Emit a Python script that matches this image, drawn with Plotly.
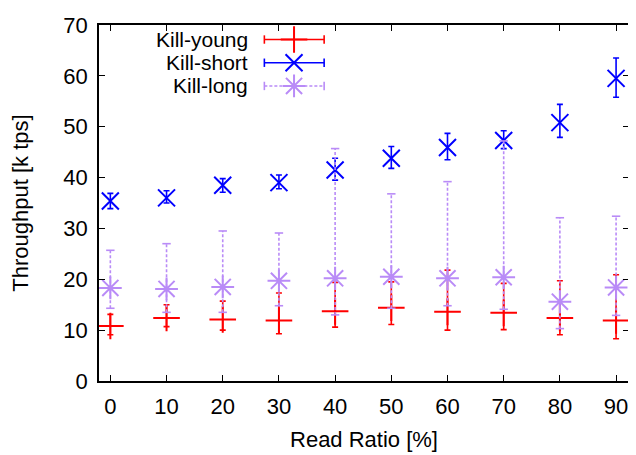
import plotly.graph_objects as go

# ---- data ----
read_ratio = [0, 10, 20, 30, 40, 50, 60, 70, 80, 90]

young = [10.8, 12.4, 12.1, 11.9, 13.7, 14.4, 13.6, 13.4, 12.4, 11.9]
young_lo = [9.1, 10.7, 10.0, 9.3, 10.6, 11.1, 10.0, 10.1, 9.1, 8.3]
young_hi = [13.1, 15.0, 15.7, 17.3, 19.4, 19.5, 21.8, 19.2, 19.7, 20.9]

short = [35.4, 36.0, 38.5, 39.0, 41.5, 43.8, 45.9, 47.3, 50.8, 59.5]
short_lo = [33.9, 35.0, 37.1, 37.8, 39.5, 41.8, 43.5, 45.7, 47.9, 55.8]
short_hi = [36.9, 37.4, 39.8, 40.5, 43.8, 46.1, 48.7, 49.2, 54.4, 63.5]

long_ = [18.3, 18.1, 18.5, 19.7, 20.2, 20.5, 20.2, 20.4, 15.6, 18.4]
long_lo = [14.3, 13.5, 13.5, 14.8, 13.0, 14.3, 14.8, 14.1, 10.3, 12.9]
long_hi = [25.7, 27.0, 29.5, 29.1, 45.7, 36.8, 39.2, 47.2, 32.1, 32.4]

series_names = ["Kill-young", "Kill-short", "Kill-long"]
x_ticks = [0, 10, 20, 30, 40, 50, 60, 70, 80, 90]
y_ticks = [0, 10, 20, 30, 40, 50, 60, 70]

RED = "#ff0000"
BLUE = "#0000ff"
PURPLE = "#b98bf7"
FONT = "Liberation Sans, Arial, sans-serif"
FS = 22
LEG_FS = 21

fig = go.Figure()


def err(vals, lo, hi):
    plus = [h - v for v, h in zip(vals, hi)]
    minus = [v - l for v, l in zip(vals, lo)]
    return plus, minus


# Kill-young
p, m = err(young, young_lo, young_hi)
fig.add_trace(go.Scatter(
    x=read_ratio, y=young, mode="markers", name=series_names[0],
    marker=dict(symbol="cross-thin-open", size=19, color=RED,
                line=dict(color=RED, width=2)),
    error_y=dict(type="data", symmetric=False, array=p, arrayminus=m,
                 color=RED, thickness=1.6, width=3),
    showlegend=False))

# Kill-short
p, m = err(short, short_lo, short_hi)
fig.add_trace(go.Scatter(
    x=read_ratio, y=short, mode="markers", name=series_names[1],
    marker=dict(symbol="x-thin-open", size=17, color=BLUE,
                line=dict(color=BLUE, width=2)),
    error_y=dict(type="data", symmetric=False, array=p, arrayminus=m,
                 color=BLUE, thickness=1.6, width=3),
    showlegend=False))

# Kill-long: dashed error bars built from the data arrays
bx, by = [], []
for xv, lo, hi in zip(read_ratio, long_lo, long_hi):
    bx += [xv, xv, None]
    by += [lo, hi, None]
fig.add_trace(go.Scatter(
    x=bx, y=by, mode="lines",
    line=dict(color=PURPLE, width=1.6, dash="3px,2px"),
    showlegend=False, hoverinfo="skip"))
fig.add_trace(go.Scatter(
    x=read_ratio + read_ratio, y=long_lo + long_hi, mode="markers",
    marker=dict(symbol="line-ew-open", size=6, color=PURPLE,
                line=dict(color=PURPLE, width=1.6)),
    showlegend=False, hoverinfo="skip"))
fig.add_trace(go.Scatter(
    x=read_ratio, y=long_, mode="markers", name=series_names[2],
    marker=dict(symbol="asterisk-open", size=19, color=PURPLE,
                line=dict(color=PURPLE, width=2)),
    showlegend=False))

# ---- legend (gnuplot style: text right-aligned, sample to the right) ----
leg_rows = [0.9592, 0.894, 0.8288]
leg_text_x = 0.284
leg_x0, leg_xm, leg_x1 = 0.312, 0.368, 0.4248
leg_styles = [
    (RED, "cross-thin-open", 19, None),
    (BLUE, "x-thin-open", 17, None),
    (PURPLE, "asterisk-open", 19, "3px,2px"),
]
for name, yy, (col, sym, sz, dash) in zip(series_names, leg_rows, leg_styles):
    fig.add_annotation(x=leg_text_x, y=yy, xref="paper", yref="paper",
                       text=name, showarrow=False, xanchor="right",
                       yanchor="middle",
                       font=dict(family=FONT, size=LEG_FS, color="black"))
    fig.add_trace(go.Scatter(
        x=[leg_x0, leg_x1], y=[yy, yy], mode="lines", xaxis="x2", yaxis="y2",
        line=dict(color=col, width=1.6, dash=dash),
        showlegend=False, hoverinfo="skip"))
    fig.add_trace(go.Scatter(
        x=[leg_x0, leg_x1], y=[yy, yy], mode="markers", xaxis="x2", yaxis="y2",
        marker=dict(symbol="line-ns-open", size=6, color=col,
                    line=dict(color=col, width=1.6)),
        showlegend=False, hoverinfo="skip"))
    fig.add_trace(go.Scatter(
        x=[leg_xm], y=[yy], mode="markers", xaxis="x2", yaxis="y2",
        marker=dict(symbol=sym, size=sz, color=col,
                    line=dict(color=col, width=2)),
        showlegend=False, hoverinfo="skip"))

axis_common = dict(
    showgrid=False, zeroline=False, showline=True, linecolor="black",
    linewidth=1.5, mirror="ticks", ticks="inside", ticklen=6,
    tickwidth=1, tickcolor="black", ticklabeloverflow="allow",
    tickfont=dict(family=FONT, size=FS, color="black"),
)

# the page body has an 8px margin, so the figure is sized to fit the window
fig.update_layout(
    width=628, height=447,
    margin=dict(l=91, r=5, t=5, b=74),
    plot_bgcolor="white", paper_bgcolor="white",
    showlegend=False,
    xaxis=dict(range=[-2.02, 92.3], tickvals=x_ticks, ticklabelstandoff=5,
               title=dict(text="Read Ratio [%]", standoff=13,
                          font=dict(family=FONT, size=FS, color="black")),
               **axis_common),
    yaxis=dict(range=[0, 70], tickvals=y_ticks, ticklabelstandoff=5,
               title=dict(text="Throughput [k tps]", standoff=33,
                          font=dict(family=FONT, size=FS, color="black")),
               **axis_common),
    xaxis2=dict(overlaying="x", anchor="y2", range=[0, 1], visible=False),
    yaxis2=dict(overlaying="y", anchor="x2", range=[0, 1], visible=False),
)

fig.write_html("out.html")
